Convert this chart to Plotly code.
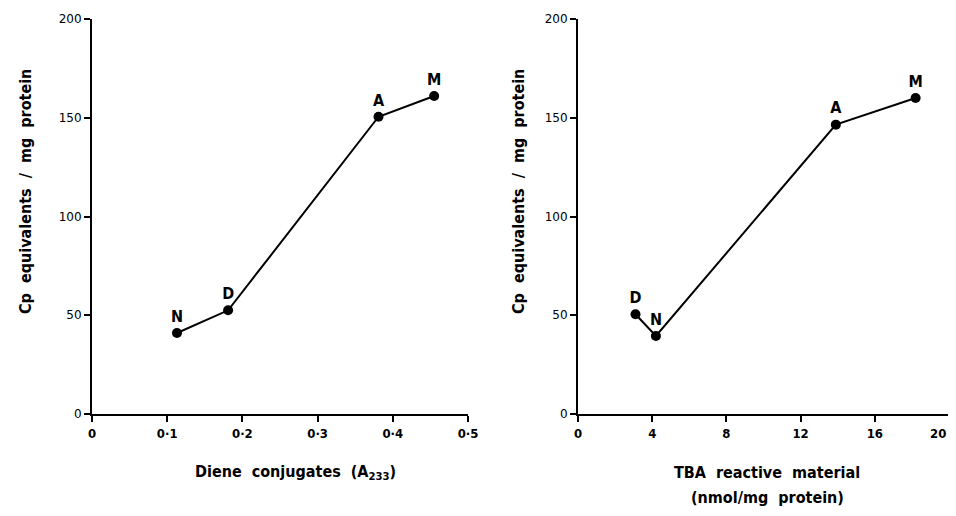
import plotly.graph_objects as go

# Left panel data: diene conjugates
diene_labels = ["N", "D", "A", "M"]
diene_x = [0.113, 0.181, 0.381, 0.455]
diene_y = [41, 52.5, 150.5, 161]

# Right panel data: TBA reactive material
tba_labels = ["D", "N", "A", "M"]
tba_x = [3.1, 4.2, 13.9, 18.2]
tba_y = [50.5, 39.5, 146.5, 160]

y_ticks = [0, 50, 100, 150, 200]
diene_ticks = [0, 0.1, 0.2, 0.3, 0.4, 0.5]
diene_ticktext = ["0", "0·1", "0·2", "0·3", "0·4", "0·5"]
tba_ticks = [0, 4, 8, 12, 16, 20]
tba_ticktext = ["0", "4", "8", "12", "16", ""]  # last label drawn separately so it fits the page
tba_last_label = "20"

OFF = 8  # page body margin
W, H = 956 - OFF, 516 - 2 * OFF
FONT = "DejaVu Sans Condensed, Liberation Sans Narrow, Arial Narrow, sans-serif"

def px_x(p):
    return min(1.0, max(0.0, (p - OFF) / W))

def px_y(p):
    return min(1.0, max(0.0, (H - (p - OFF)) / H))

label_font = dict(family=FONT, size=16, color="black", weight="bold")

fig = go.Figure()
fig.add_trace(go.Scatter(
    x=diene_x, y=diene_y, text=diene_labels, mode="lines+markers+text",
    textposition="top center", xaxis="x", yaxis="y",
    line=dict(color="black", width=2), marker=dict(color="black", size=10),
    textfont=label_font, cliponaxis=False, showlegend=False))
fig.add_trace(go.Scatter(
    x=tba_x, y=tba_y, text=tba_labels, mode="lines+markers+text",
    textposition="top center", xaxis="x2", yaxis="y2",
    line=dict(color="black", width=2), marker=dict(color="black", size=10),
    textfont=label_font, cliponaxis=False, showlegend=False))

ydom = [px_y(414), px_y(19)]
common_axis = dict(showgrid=False, zeroline=False, showline=True, linecolor="black",
                   linewidth=2, ticks="outside", ticklen=6, tickwidth=1.5, tickcolor="black",
                   ticklabeloverflow="allow")

xtick_font = dict(family=FONT, size=13, color="black", weight="bold")
ytick_font = dict(family="DejaVu Sans, sans-serif", size=12, color="black")

fig.update_layout(
    width=W, height=H,
    margin=dict(l=0, r=0, t=0, b=0, autoexpand=False),
    plot_bgcolor="white", paper_bgcolor="white",
    xaxis=dict(domain=[px_x(92), px_x(468)], range=[0, 0.5], tickvals=diene_ticks,
               ticktext=diene_ticktext, anchor="y", tickfont=xtick_font, **common_axis),
    yaxis=dict(domain=ydom, range=[0, 200], tickvals=y_ticks, anchor="x",
               tickfont=ytick_font, **common_axis),
    xaxis2=dict(domain=[px_x(578), px_x(949)], range=[0, 20], tickvals=tba_ticks,
                ticktext=tba_ticktext, anchor="y2", tickfont=xtick_font, **common_axis),
    yaxis2=dict(domain=ydom, range=[0, 200], tickvals=y_ticks, anchor="x2",
                tickfont=ytick_font, **common_axis),
)

fig.add_annotation(text=tba_last_label, x=px_x(947), y=px_y(433), xref="paper", yref="paper",
                   showarrow=False, font=xtick_font, xanchor="right", yanchor="middle",
                   borderpad=0)

title_font = dict(family=FONT, size=16, color="black", weight="bold")
ytitle = "Cp  equivalents  /  mg  protein"
fig.add_annotation(text=ytitle, x=px_x(25), y=px_y(192), xref="paper", yref="paper",
                   textangle=-90, showarrow=False, font=title_font, xanchor="center", yanchor="middle")
fig.add_annotation(text=ytitle, x=px_x(518), y=px_y(192), xref="paper", yref="paper",
                   textangle=-90, showarrow=False, font=title_font, xanchor="center", yanchor="middle")
fig.add_annotation(text="Diene  conjugates  (A<sub>233</sub>)", x=px_x(295), y=px_y(472),
                   xref="paper", yref="paper", showarrow=False, font=title_font,
                   xanchor="center", yanchor="middle")
fig.add_annotation(text="TBA  reactive  material", x=px_x(767), y=px_y(472),
                   xref="paper", yref="paper", showarrow=False, font=title_font,
                   xanchor="center", yanchor="middle")
fig.add_annotation(text="(nmol/mg  protein)", x=px_x(767), y=px_y(497),
                   xref="paper", yref="paper", showarrow=False, font=title_font,
                   xanchor="center", yanchor="middle")

fig.write_html("out.html")
